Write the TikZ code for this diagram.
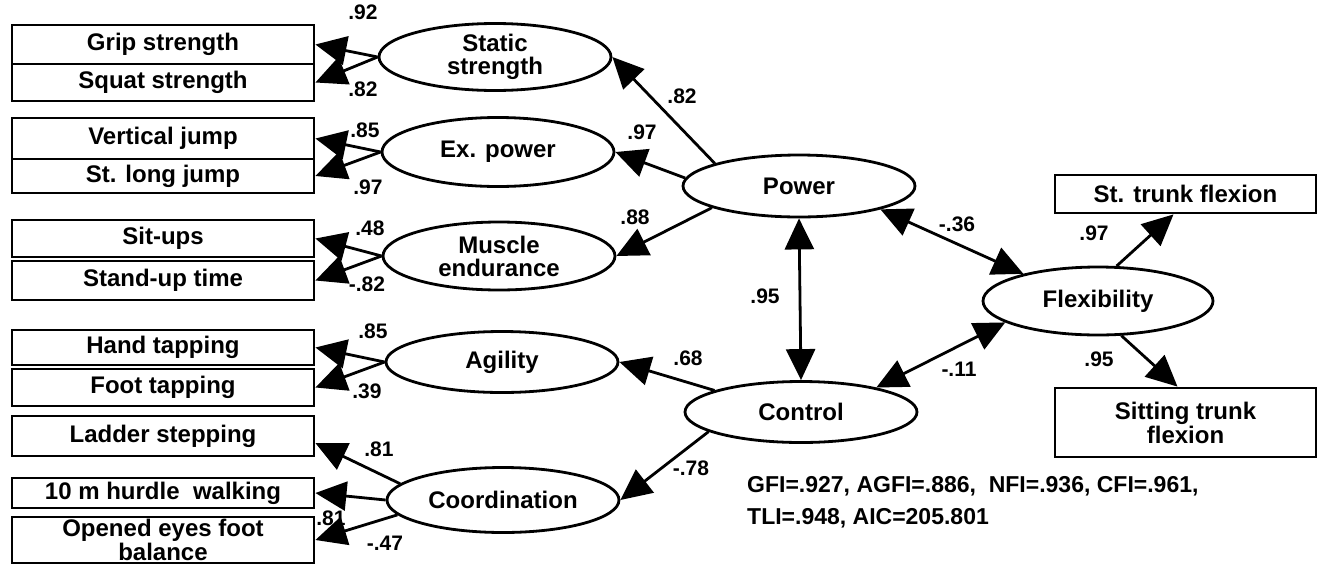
\documentclass[tikz,border=0pt]{standalone}
\usepackage{fontspec}
\setmainfont{Liberation Sans}
\usetikzlibrary{arrows.meta,shapes.geometric}

\begin{document}
\begin{tikzpicture}[x=1pt,y=-1pt,
  obs/.style={draw,line width=2.8pt,minimum width=302pt,inner sep=0pt,font=\fontsize{24}{24}\selectfont\bfseries,align=center},
  lat/.style={draw,ellipse,line width=2.8pt,minimum width=232pt,inner sep=0pt,font=\fontsize{24}{23}\selectfont\bfseries,align=center},
  coef/.style={inner sep=0pt,font=\fontsize{21}{21}\selectfont\bfseries},
  reg/.style={line width=2.8pt,-{Triangle[length=31pt,width=29pt]}},
  cov/.style={line width=2.8pt,{Triangle[length=31pt,width=29pt]}-{Triangle[length=31pt,width=29pt]}}]
\useasboundingbox (0,0) rectangle (1319,565);
\node[obs,minimum height=39pt] (grip) at (163,44.5) {Grip strength};
\node[obs,minimum height=37pt] (squat) at (163,82.5) {Squat strength};
\node[obs,minimum height=41pt] (vjump) at (163,138.5) {Vertical jump};
\node[obs,minimum height=34pt] (slong) at (163,176) {St. long jump};
\node[obs,minimum height=37pt] (situp) at (163,238.5) {Sit-ups};
\node[obs,minimum height=39pt] (standup) at (163,280.5) {Stand-up time};
\node[obs,minimum height=35pt] (hand) at (163,347.5) {Hand tapping};
\node[obs,minimum height=37pt] (foot) at (163,387.5) {Foot tapping};
\node[obs,minimum height=40pt] (ladder) at (163,436) {Ladder stepping};
\node[obs,minimum height=30pt] (hurdle) at (163,493) {10 m hurdle\ \ walking};
\node[obs,minimum height=46pt] (balance) at (163,540) {Opened eyes foot\\balance};
\node[obs,minimum width=261pt,minimum height=38pt] (sttrunk) at (1185.5,194) {St. trunk flexion};
\node[obs,minimum width=261pt,minimum height=69pt] (sittrunk) at (1185.5,422.5) {Sitting trunk\\flexion};
\node[lat,minimum height=67pt] (static) at (495,57) {Static\\strength};
\node[lat,minimum height=69pt] (expow) at (498,152) {Ex. power};
\node[lat,minimum height=68pt] (muscle) at (499,256) {Muscle\\endurance};
\node[lat,minimum height=61pt] (agil) at (502,362) {Agility};
\node[lat,minimum height=65pt] (coord) at (503,500) {Coordination};
\node[lat,minimum height=62pt] (power) at (799,186) {Power};
\node[lat,minimum height=61pt] (control) at (801,412) {Control};
\node[lat,minimum width=230pt,minimum height=68pt] (flex) at (1098,301) {Flexibility};
\draw[reg] (static.west) -- (grip.east);
\draw[reg] (static.west) -- (squat.east);
\draw[reg] (expow.west) -- (vjump.east);
\draw[reg] (expow.west) -- (slong.east);
\draw[reg] (muscle.west) -- (situp.east);
\draw[reg] (muscle.west) -- (standup.east);
\draw[reg] (agil.west) -- (hand.east);
\draw[reg] (agil.west) -- (foot.east);
\draw[reg] (coord.171) -- ([yshift=-7pt]ladder.east);
\draw[reg] (coord.west) -- (hurdle.east);
\draw[reg] (coord.188) -- (balance.east);
\draw[reg] (power.165) -- (static.east);
\draw[reg] (power.176) -- (expow.east);
\draw[reg] (power.194) -- (muscle.east);
\draw[reg] (control.166) -- (agil.east);
\draw[reg] (control.192) -- (coord.east);
\draw[cov] (power.south) -- (control.north);
\draw[cov] (power.344) -- (flex.160);
\draw[cov] (control.18) -- (flex.193);
\draw[reg] (flex.62) -- ([xshift=-12pt]sttrunk.south);
\draw[reg] (flex.304) -- ([xshift=-8pt]sittrunk.north);
\node[coef] at (363,12) {.92};
\node[coef] at (363,89) {.82};
\node[coef] at (365,130) {.85};
\node[coef] at (368,187) {.97};
\node[coef] at (370,228) {.48};
\node[coef] at (367,284) {-.82};
\node[coef] at (373,331) {.85};
\node[coef] at (367,391) {.39};
\node[coef] at (379,449) {.81};
\node[coef] at (331,518) {.81};
\node[coef] at (385,543) {-.47};
\node[coef] at (682,96) {.82};
\node[coef] at (642,132) {.97};
\node[coef] at (635,217) {.88};
\node[coef] at (765,296) {.95};
\node[coef] at (688,358) {.68};
\node[coef] at (691,468) {-.78};
\node[coef] at (957,224) {-.36};
\node[coef] at (959,369) {-.11};
\node[coef] at (1094,233) {.97};
\node[coef] at (1099,359) {.95};
\node[anchor=north west,inner sep=0pt,align=left,font=\fontsize{23}{32}\selectfont\bfseries] (fit) at (747,476)
  {GFI=.927, AGFI=.886,\ \ NFI=.936, CFI=.961,\\TLI=.948, AIC=205.801};
\end{tikzpicture}
\end{document}
